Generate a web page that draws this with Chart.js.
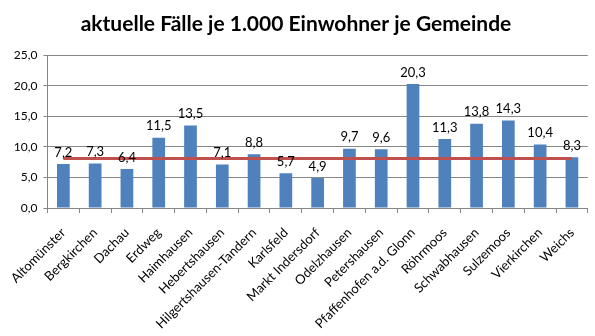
<!DOCTYPE html>
<html>
<head>
<meta charset="utf-8">
<script src="https://cdn.jsdelivr.net/npm/chart.js@4/dist/chart.umd.min.js"></script>
<style>
    html, body { margin: 0; padding: 0; background: #fff; }
    #wrap { width: 595px; height: 336px; position: relative; }
</style>
</head>
<body>
<div id="wrap"><canvas id="casesChart"></canvas></div>
<script>
// chart data
const chartTitle = "aktuelle Fälle je 1.000 Einwohner je Gemeinde";
const municipalities = [
    "Altomünster", "Bergkirchen", "Dachau", "Erdweg", "Haimhausen",
    "Hebertshausen", "Hilgertshausen-Tandern", "Karlsfeld", "Markt Indersdorf",
    "Odelzhausen", "Petershausen", "Pfaffenhofen a.d. Glonn", "Röhrmoos",
    "Schwabhausen", "Sulzemoos", "Vierkirchen", "Weichs"
];
const casesPer1000 = [7.2, 7.3, 6.4, 11.5, 13.5, 7.1, 8.8, 5.7, 4.9, 9.7, 9.6, 20.3, 11.3, 13.8, 14.3, 10.4, 8.3];
const countyAverage = municipalities.map(() => 8.1);
const yTicks = [0, 5, 10, 15, 20, 25];

const fmt = v => v.toFixed(1).replace(".", ",");

// draw value labels above the bars
const barLabels = {
    id: "barLabels",
    afterDatasetsDraw(chart) {
        const ctx = chart.ctx;
        const meta = chart.getDatasetMeta(0);
        ctx.save();
        ctx.font = "13px Lato";
        ctx.fillStyle = "#000";
        ctx.textAlign = "center";
        ctx.textBaseline = "bottom";
        meta.data.forEach((bar, i) => {
            ctx.fillText(fmt(casesPer1000[i]), bar.x, bar.y - 5);
        });
        ctx.restore();
    }
};

document.addEventListener("DOMContentLoaded", function () {
    const ctx = document.getElementById("casesChart");

    new Chart(ctx, {
        type: "bar",
        data: {
            labels: municipalities,
            datasets: [
                {
                    type: "bar",
                    data: casesPer1000,
                    backgroundColor: "#4F81BD",
                    barPercentage: 0.8,
                    categoryPercentage: 0.5,
                    order: 1
                },
                {
                    type: "line",
                    data: countyAverage,
                    borderColor: "#C0504D",
                    borderWidth: 3,
                    pointRadius: 0,
                    fill: false,
                    order: 0
                }
            ]
        },
        options: {
            responsive: true,
            maintainAspectRatio: false,
            animation: false,
            layout: { padding: { left: 0, right: 3, top: 0, bottom: 0 } },
            plugins: {
                legend: { display: false },
                tooltip: { enabled: false },
                title: {
                    display: true,
                    text: chartTitle,
                    color: "#000",
                    font: { family: "Lato", size: 21, weight: "bold" },
                    padding: { top: 12, bottom: 18 }
                }
            },
            scales: {
                x: {
                    grid: { offset: true, drawOnChartArea: false, drawTicks: true, tickLength: 5, color: "#868686" },
                    border: { color: "#868686" },
                    ticks: {
                        color: "#000",
                        font: { family: "Lato", size: 13 },
                        minRotation: 45,
                        maxRotation: 45,
                        autoSkip: false,
                        padding: 12
                    },
                    afterFit: scale => { scale.height = 128; }
                },
                y: {
                    min: 0,
                    max: 25,
                    afterBuildTicks: scale => { scale.ticks = yTicks.map(v => ({ value: v })); },
                    grid: { color: "#868686", tickLength: 4 },
                    border: { color: "#868686" },
                    ticks: {
                        color: "#000",
                        font: { family: "Lato", size: 12 },
                        padding: 6,
                        callback: v => fmt(v)
                    },
                    afterFit: scale => { scale.width = 46; }
                }
            }
        },
        plugins: [barLabels]
    });
});
</script>
</body>
</html>
